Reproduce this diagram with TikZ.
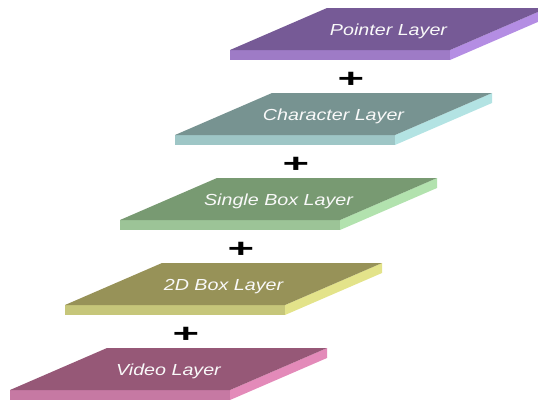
\documentclass[tikz,border=0pt]{standalone}
\usepackage{fontspec}
\setmainfont{Liberation Sans}
\usetikzlibrary{calc}
\definecolor{ptrtop}{HTML}{765A96}
\definecolor{ptrfront}{HTML}{9E7BC6}
\definecolor{ptrside}{HTML}{B48DE3}
\definecolor{chrtop}{HTML}{779391}
\definecolor{chrfront}{HTML}{9EC6C6}
\definecolor{chrside}{HTML}{B3E3E3}
\definecolor{sbxtop}{HTML}{789A72}
\definecolor{sbxfront}{HTML}{9CC497}
\definecolor{sbxside}{HTML}{B2E2AE}
\definecolor{twdtop}{HTML}{979258}
\definecolor{twdfront}{HTML}{C6C67A}
\definecolor{twdside}{HTML}{E3E38A}
\definecolor{vidtop}{HTML}{965877}
\definecolor{vidfront}{HTML}{C679A3}
\definecolor{vidside}{HTML}{E38AB9}
\begin{document}
\begin{tikzpicture}[x=1pt,y=-1pt,
  lbl/.style={font=\itshape\fontsize{16}{16}\selectfont,text=white!95!gray,inner sep=0pt},
  plus/.style={font=\bfseries\fontsize{26}{26}\selectfont,inner sep=0pt}]
\useasboundingbox (0,0) rectangle (538,399);
% slabs, front-left corner of the top face
\foreach \name/\fx/\fy/\col/\txt in {video/10/390/vid/Video Layer,
    twod/65/305/twd/2D Box Layer, single/120/220/sbx/Single Box Layer,
    char/175/135/chr/Character Layer, pointer/230/50/ptr/Pointer Layer}{
  \fill[\col front] (\fx,\fy) -- ++(220,0) -- ++(0,10) -- ++(-220,0) -- cycle;
  \fill[\col side] (\fx+220,\fy) -- ++(97,-42) -- ++(0,10) -- ++(-97,42) -- cycle;
  \fill[\col top] (\fx,\fy) -- ++(220,0) -- ++(97,-42) -- ++(-220,0) -- cycle;
  \node[lbl] (\name) at (\fx+158.5,\fy-18.5) {\scalebox{1.23}[1]{\txt}};
}
\foreach \i/\px/\py in {1/186/335,2/241/250,3/296/165,4/351/80}
  \node[plus] (plus\i) at (\px,\py) {\scalebox{1.75}[1]{+}};
\end{tikzpicture}
\end{document}
